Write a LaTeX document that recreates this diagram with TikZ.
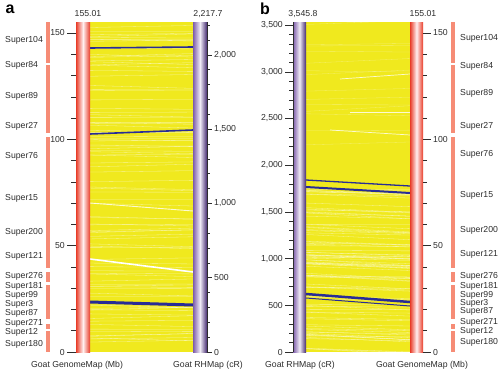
\documentclass[tikz,border=0pt]{standalone}
\usepackage{fontspec}
\setmainfont{Liberation Sans}
\definecolor{mapyellow}{RGB}{240,233,30}
\definecolor{mapred}{RGB}{232,60,40}
\definecolor{segred}{RGB}{246,140,118}
\definecolor{rhpurple}{RGB}{125,92,170}
\definecolor{rhdark}{RGB}{68,42,112}
\definecolor{linkblue}{RGB}{40,44,150}
\definecolor{txtgray}{RGB}{45,45,45}
\tikzset{
  lab/.style={font=\fontsize{8.7}{9}\selectfont, text=txtgray, inner sep=0pt},
  panel/.style={font=\fontsize{16}{16}\selectfont\bfseries, inner sep=0pt},
  redbar/.style={left color=mapred, right color=mapred, middle color=red!6},
  rhbar/.style={left color=rhpurple, right color=rhdark, middle color=rhpurple!12},
  segbar/.style={fill=segred},
  tick/.style={draw=txtgray, line width=0.5pt},
  wlink/.style={white, line width=0.3pt, opacity=0.55},
  blink/.style={linkblue, line width=1.6pt}
}
\begin{document}
\begin{tikzpicture}[x=1pt,y=-1pt]
\useasboundingbox (0,0) rectangle (500,372);

% panel a
\node[panel] (pa) at (10,9) {a};
\fill[mapyellow] (90,22) rectangle (193,352);
\begin{scope}
\clip (90,22) rectangle (193,352);
\pgfmathsetseed{12}
\foreach \i in {1,...,95}{
  \pgfmathsetmacro\ya{24+326*rnd}
  \pgfmathsetmacro\yb{\ya+3*rand}
  \draw[wlink] (90,\ya) -- (193,\yb);
}
\draw[white, line width=1.6pt] (90,259) -- (193,272);
\draw[white, line width=0.9pt, opacity=0.8] (90,203) -- (193,211);
\draw[blink] (90,48) -- (193,47);
\draw[blink] (90,134) -- (193,130);
\draw[blink, line width=3pt] (90,302) -- (193,305);
\end{scope}
\fill[redbar] (76,22) rectangle (90,352);
\fill[rhbar] (193,22) rectangle (207,352);
\draw[tick] (207,22) -- (207,352);
% left scale (Mb)
\foreach \v in {0,10,...,150}
  \draw[tick] (71,{352-2.127*\v}) -- (76,{352-2.127*\v});
\foreach \v in {0,50,100,150}{
  \draw[tick] (67,{352-2.127*\v}) -- (76,{352-2.127*\v});
  \node[lab, anchor=east] (mba\v) at (65,{352-2.127*\v}) {\v};
}
% right scale (cR)
\foreach \v in {0,100,...,2200}
  \draw[tick] (207,{352-0.1486*\v}) -- (210,{352-0.1486*\v});
\foreach \v/\t in {0/0,500/500,1000/{1,000},1500/{1,500},2000/{2,000}}{
  \draw[tick] (207,{352-0.1486*\v}) -- (212,{352-0.1486*\v});
  \node[lab, anchor=west] (cra\v) at (214,{352-0.1486*\v}) {\t};
}
\node[lab] (topa1) at (88,14) {155.01};
\node[lab] (topa2) at (208,14) {2,217.7};
\node[lab] (bota1) at (77,365) {Goat GenomeMap (Mb)};
\node[lab] (bota2) at (208,365) {Goat RHMap (cR)};
% super-scaffolds a
\foreach \ya/\yb in {22/63,65/133,137/268,272/282,285/319,324/329,331/352}
  \fill[segbar] (46,\ya) rectangle (50,\yb);
\foreach \n/\y in {104/40,84/65,89/96,27/126,76/156,15/198,200/232,121/256,
                   276/276,181/286,99/295,3/304,87/313,271/323,12/332,180/344}
  \node[lab, anchor=west] (sa\n) at (5,\y) {Super\n};

% panel b
\node[panel] (pb) at (265,9) {b};
\fill[mapyellow] (306,22) rectangle (410,352);
\begin{scope}
\clip (306,22) rectangle (410,352);
\pgfmathsetseed{31}
\foreach \i in {1,...,14}{
  \pgfmathsetmacro\ya{24+150*rnd}
  \pgfmathsetmacro\yb{\ya-2+4*rand}
  \draw[wlink, opacity=0.35] (306,\ya) -- (410,\yb);
}
\draw[white, line width=0.7pt, opacity=0.8] (340,79) -- (410,74);
\draw[white, line width=0.6pt, opacity=0.8] (350,112) -- (410,112);
\draw[white, line width=0.7pt, opacity=0.8] (330,130) -- (410,135);
\foreach \i in {1,...,85}{
  \pgfmathsetmacro\ya{188+164*rnd}
  \pgfmathsetmacro\yb{\ya+3+3*rand}
  \draw[wlink] (306,\ya) -- (410,\yb);
}
\draw[blink, line width=1.3pt] (306,180) -- (410,186);
\draw[blink, line width=2pt] (306,187) -- (410,193);
\draw[blink, line width=2.5pt] (306,294) -- (410,302);
\draw[blink, line width=1pt] (306,298) -- (410,306);
\end{scope}
\fill[rhbar] (293,22) rectangle (306,352);
\fill[redbar] (410,22) rectangle (423,352);
\draw[tick] (293,22) -- (293,352);
% left scale (cR)
\foreach \v in {0,100,...,3500}
  \draw[tick] (289,{352-0.0934*\v}) -- (293,{352-0.0934*\v});
\foreach \v/\t in {0/0,500/500,1000/{1,000},1500/{1,500},2000/{2,000},
                   2500/{2,500},3000/{3,000},3500/{3,500}}{
  \draw[tick] (285,{352-0.0934*\v}) -- (293,{352-0.0934*\v});
  \node[lab, anchor=east] (crb\v) at (283,{352-0.0934*\v}) {\t};
}
% right scale (Mb)
\foreach \v in {0,10,...,150}
  \draw[tick] (423,{352-2.127*\v}) -- (427,{352-2.127*\v});
\foreach \v in {0,50,100,150}{
  \draw[tick] (423,{352-2.127*\v}) -- (431,{352-2.127*\v});
  \node[lab, anchor=west] (mbb\v) at (433,{352-2.127*\v}) {\v};
}
\node[lab] (topb1) at (303,14) {3,545.8};
\node[lab] (topb2) at (423,14) {155.01};
\node[lab] (botb1) at (300,365) {Goat RHMap (cR)};
\node[lab] (botb2) at (422,365) {Goat GenomeMap (Mb)};
% super-scaffolds b
\foreach \ya/\yb in {22/63,65/133,137/268,272/282,285/319,324/329,331/352}
  \fill[segbar] (451,\ya) rectangle (455,\yb);
\foreach \n/\y in {104/38,84/66,89/93,27/126,76/154,15/195,200/230,121/254,
                   276/276,181/286,99/295,3/303,87/311,271/322,12/331,180/342}
  \node[lab, anchor=west] (sb\n) at (460,\y) {Super\n};
\end{tikzpicture}
\end{document}
